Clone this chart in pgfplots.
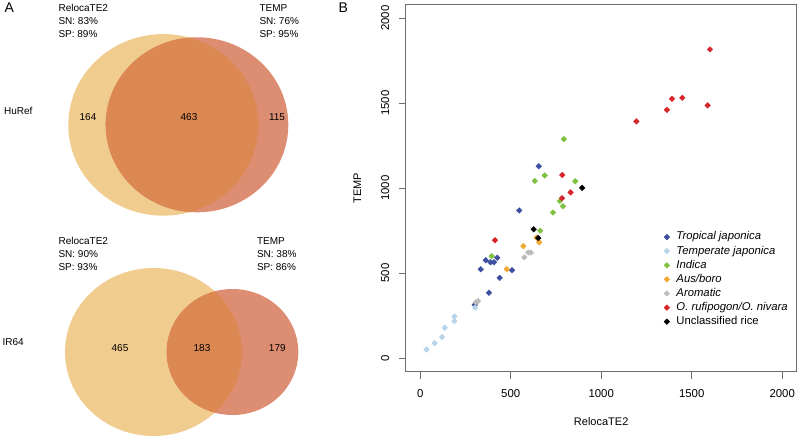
\documentclass[border=0pt]{standalone}
\usepackage{pgfplots}
\pgfplotsset{compat=1.18}
\usepackage{fontspec}
\setmainfont{Liberation Sans}
\definecolor{yel}{HTML}{F0CC8E}
\definecolor{redonly}{HTML}{DD8E72}
\definecolor{overlap}{HTML}{DC8852}
\definecolor{framegray}{HTML}{6E6E6E}
\definecolor{tropj}{HTML}{3D4FA0}
\definecolor{tempj}{HTML}{B8D4E8}
\definecolor{indica}{HTML}{7DC142}
\definecolor{ausboro}{HTML}{F0A830}
\definecolor{aromatic}{HTML}{BBBBBB}
\definecolor{rufi}{HTML}{D7262B}
\definecolor{unclass}{HTML}{000000}
\begin{document}
\begin{tikzpicture}
\useasboundingbox (0,0) rectangle (798pt,437pt);
% ---------------- Panel A (Venn diagrams) ----------------
\begin{axis}[at={(0pt,0pt)}, anchor=south west, scale only axis,
  width=340pt, height=437pt, xmin=0, xmax=340, ymin=0, ymax=437,
  y dir=reverse, axis lines=none, clip=false,
  every node/.append style={font=\fontsize{11.2}{13}\selectfont, inner sep=0pt}]
  % HuRef
  \fill[yel] (axis cs:163.3,124.9) ellipse [x radius=95, y radius=90.8];
  \fill[redonly] (axis cs:197,124.8) ellipse [x radius=91.3, y radius=87.5];
  \begin{scope}
    \clip (axis cs:163.3,124.9) ellipse [x radius=95, y radius=90.8];
    \fill[overlap] (axis cs:197,124.8) ellipse [x radius=91.3, y radius=87.5];
  \end{scope}
  % IR64
  \fill[yel] (axis cs:153.5,352) ellipse [x radius=88.5, y radius=84];
  \fill[redonly] (axis cs:232.5,352) ellipse [x radius=65.8, y radius=63];
  \begin{scope}
    \clip (axis cs:153.5,352) ellipse [x radius=88.5, y radius=84];
    \fill[overlap] (axis cs:232.5,352) ellipse [x radius=65.8, y radius=63];
  \end{scope}
  % texts
  \node[anchor=base west, font=\fontsize{14}{16}\selectfont] at (axis cs:1,12) {A};
  \node[anchor=base west] at (axis cs:55,11.2) {RelocaTE2};
  \node[anchor=base west] at (axis cs:55,24.6) {SN: 83\%};
  \node[anchor=base west] at (axis cs:55,37.2) {SP: 89\%};
  \node[anchor=base west] at (axis cs:256,11.2) {TEMP};
  \node[anchor=base west] at (axis cs:256,24.6) {SN: 76\%};
  \node[anchor=base west] at (axis cs:256,37.2) {SP: 95\%};
  \node[anchor=west] at (axis cs:0.5,110.7) {HuRef};
  \node at (axis cs:88,117.5) {164};
  \node at (axis cs:189,117.5) {463};
  \node at (axis cs:277,117.5) {115};
  \node[anchor=base west] at (axis cs:55,244.6) {RelocaTE2};
  \node[anchor=base west] at (axis cs:55,257.9) {SN: 90\%};
  \node[anchor=base west] at (axis cs:55,270.6) {SP: 93\%};
  \node[anchor=base west] at (axis cs:253.5,244.6) {TEMP};
  \node[anchor=base west] at (axis cs:253.5,257.9) {SN: 38\%};
  \node[anchor=base west] at (axis cs:253.5,270.6) {SP: 86\%};
  \node[anchor=west] at (axis cs:-1,342.3) {IR64};
  \node at (axis cs:120,348.5) {465};
  \node at (axis cs:202,348.5) {183};
  \node at (axis cs:277.3,348.5) {179};
  \node[anchor=base west, font=\fontsize{14}{16}\selectfont] at (axis cs:335,12) {B};
\end{axis}
% ---------------- Panel B (scatter) ----------------
\begin{axis}[at={(405.7pt,65.3pt)}, anchor=south west, scale only axis,
  width=391pt, height=367pt,
  xmin=-80, xmax=2080, ymin=-80, ymax=2080,
  xtick={0,500,1000,1500,2000}, ytick={0,500,1000,1500,2000},
  xtick pos=bottom, ytick pos=left,
  tick align=outside, major tick length=7pt,
  axis line style={draw=framegray, line width=0.8pt},
  every tick/.style={draw=framegray, line width=0.8pt},
  /pgf/number format/assume math mode=true,
  /pgf/number format/1000 sep={},
  tick label style={font=\fontsize{11.4}{13}\selectfont},
  yticklabel style={rotate=90, anchor=south},
  xticklabel shift=7pt, yticklabel shift=6pt,
  xlabel={RelocaTE2}, ylabel={TEMP},
  label style={font=\fontsize{11}{13}\selectfont},
  xlabel style={at={(axis description cs:0.5,-0.1362)}, anchor=center},
  ylabel style={at={(axis description cs:-0.1238,0.5)}, anchor=center},
  legend image code/.code={\draw[mark repeat=2,mark phase=2,#1] plot coordinates {(0pt,0pt) (4pt,0pt) (8pt,0pt)};},
  legend cell align=left,
  legend style={draw=none, fill=none, inner sep=0pt, row sep=0pt,
    at={(axis cs:1346,755)}, anchor=north west,
    font=\fontsize{11.3}{13}\selectfont,
    nodes={inner xsep=6.8pt, inner ysep=1.7pt, text height=8.2pt, text depth=2.5pt}},
  every axis plot/.append style={only marks, mark=square*, mark size=2pt,
    mark options={rotate=45, draw=none}},
]
\addplot[color=tropj] coordinates {
(301,314) (380,385) (334,523) (362,576) (388,564) (408,564) (426,591)
(439,472) (507,517) (547,869) (655,1129)};
\addlegendentry{\textit{Tropical japonica}}
\addplot[color=tempj] coordinates {
(35,51) (80,88) (121,124) (136,179) (189,245) (189,218) (303,297)};
\addlegendentry{\textit{Temperate japonica}}
\addplot[color=indica] coordinates {
(395,600) (633,1043) (688,1075) (663,750) (734,857) (771,924) (789,894)
(857,1041) (794,1289)};
\addlegendentry{\textit{Indica}}
\addplot[color=ausboro] coordinates {
(478,523) (570,659) (643,709) (658,682)};
\addlegendentry{\textit{Aus/boro}}
\addplot[color=aromatic] coordinates {
(308,328) (320,336) (575,593) (597,621) (612,621)};
\addlegendentry{\textit{Aromatic}}
\addplot[color=rufi] coordinates {
(413,694) (785,1078) (783,941) (831,975) (1194,1393) (1363,1461)
(1391,1526) (1448,1532) (1588,1487) (1601,1817)};
\addlegendentry{\textit{O. rufipogon/O. nivara}}
\addplot[color=unclass] coordinates {
(627,758) (652,707) (895,1002)};
\addlegendentry{Unclassified rice}
\end{axis}
\end{tikzpicture}
\end{document}
